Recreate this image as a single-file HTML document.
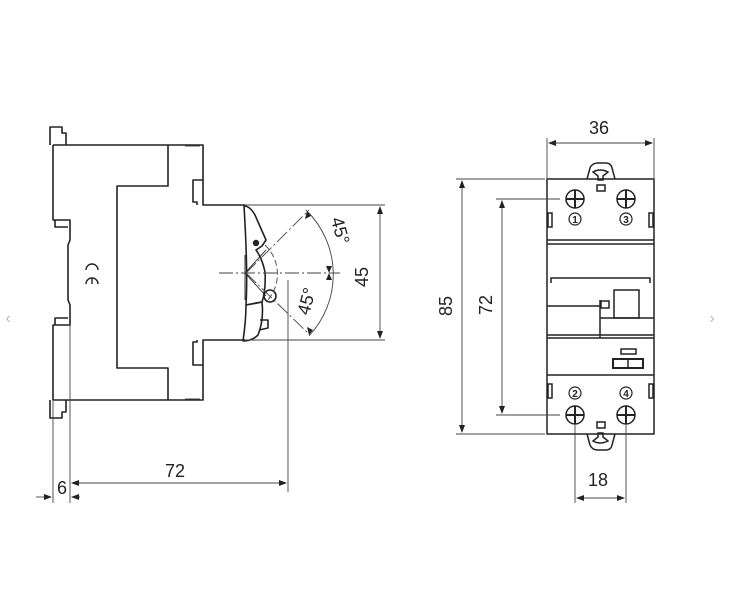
<!DOCTYPE html>
<html><head><style>
html,body{margin:0;padding:0;background:#fff;}
svg{display:block;}
text{font-family:"Liberation Sans",sans-serif;fill:#222;}
</style></head><body>
<svg width="734" height="604" viewBox="0 0 734 604" xmlns="http://www.w3.org/2000/svg">
<g fill="none" stroke="#222" stroke-width="1.6" stroke-linejoin="round">
<!-- LEFT VIEW body -->
<path d="M53,145 L203,145 L203,205 L245,205"/>
<path d="M245,340 L203,340 L203,400 L53,400"/>
<path d="M168,145 L168,186 L117,186 L117,368 L168,368 L168,400"/>
<path d="M53,145 L53,220 L70,220 L70,240 L68,245 L68,300 L70,305 L70,325 L53,325 L53,400"/>
<path d="M50,145 L50,127 L62,127 L62,133 L66,133 L66,145"/>
<path d="M50,400 L50,418 L62,418 L62,412 L66,412 L66,400"/>
<path d="M55,220 L55,227 L68,227"/><path d="M55,325 L55,318 L68,318"/>
<path d="M203,180 L193,180 L193,202 L197,202 L197,205"/>
<path d="M203,365 L193,365 L193,342 L197,342 L197,340"/>
<path d="M185,146 L200,146" stroke-width="0.8"/><path d="M185,399 L200,399" stroke-width="0.8"/>
<!-- CE -->
<path d="M98,270 a6,6 0 1 0 -12,0" stroke-width="1.4"/>
<path d="M98,284 a6,6 0 1 0 -12,0 M92,284 L92,278" stroke-width="1.4"/>
<!-- lever -->
<path d="M244,206 Q250,206 255,215 L266,240 L262,246 L256,250 Q262,258 265,272 Q266,290 262,302 L246,305 Q248,272 244,206 Z"/>
<circle cx="256" cy="243" r="2.4" fill="#222"/>
<path d="M246,305 L262,302 Q264,320 258,335 Q252,341 243,341 Q246,320 246,305 Z"/>
<path d="M260,320 L268,320 L268,328 L259,330"/>
<circle cx="270" cy="296" r="6"/>
<path d="M245,273 L266,250 M245,273 L266,296" stroke-width="0.9"/>
<line x1="245" y1="255" x2="245" y2="300" stroke-width="0.9"/>
</g>
<g fill="none" stroke="#444" stroke-width="0.9">
<path d="M219,273 L340,273" stroke-dasharray="14,3,2,3"/>
<path d="M246,273 L309,210 M246,273 L310,335" stroke-dasharray="14,3,2,3"/>
<path d="M265,245 A40,40 0 0 1 266,302" stroke-dasharray="6,3"/>
<path d="M306,210 A90,90 0 0 1 309,336"/>
<path d="M245,205 L385,205 M245,340 L385,340"/>
<line x1="380" y1="207" x2="380" y2="338"/>
<line x1="288" y1="280" x2="288" y2="492"/>
<line x1="53" y1="400" x2="53" y2="503"/>
<line x1="70" y1="325" x2="70" y2="503"/>
<line x1="72" y1="483" x2="286" y2="483"/>
<line x1="36" y1="497" x2="51" y2="497"/><line x1="72" y1="497" x2="80" y2="497"/>
</g>
<g fill="#222">
<path d="M380,206 l-3,8 h6z M380,339 l-3,-8 h6z"/>
<path d="M71,483 l8,-3 v6z M287,483 l-8,-3 v6z"/>
<path d="M52,497 l-8,-3 v6z M71,497 l8,-3 v6z"/>
<path d="M307,211 l-2,8 l6,-3z M309,335 l-2,-8 l6,3z M329,273 l-3,-7 l6,0z M329,273 l-3,7 l6,0z"/>
</g>
<text x="362" y="271" font-size="18" transform="rotate(-90 368 271)" text-anchor="middle">45</text>
<text x="330" y="238" font-size="18" transform="rotate(75 336 238)" text-anchor="middle">45°</text>
<text x="308" y="297" font-size="18" transform="rotate(-75 314 297)" text-anchor="middle">45°</text>
<text x="175" y="477" font-size="18" text-anchor="middle">72</text>
<text x="62" y="494" font-size="18" text-anchor="middle">6</text>

<!-- RIGHT VIEW -->
<g fill="none" stroke="#222" stroke-width="1.5">
<rect x="547" y="179" width="107" height="255"/>
<path d="M547,240 L654,240 M547,244 L654,244"/>
<path d="M551,283 L551,278 L650,278 L650,283"/>
<path d="M547,335 L654,335 M547,338 L654,338 M547,375 L654,375"/>
<path d="M547,306 L600,306 M600,300 L600,338 M600,318 L654,318"/>
<rect x="614" y="290" width="25" height="28"/>
<rect x="601" y="301" width="8" height="7"/>
<rect x="621" y="349" width="15" height="5"/>
<rect x="613" y="359" width="30" height="9" stroke-width="2"/>
<path d="M628,359 v9"/>
<path d="M587,179 L590,168 Q592,163 598,163 L606,163 Q611,163 612,168 L615,179"/>
<path d="M593,172 Q600,168 608,172 L603,176 L603,180 L598,180 L598,176 Z"/>
<rect x="597" y="185" width="8" height="6"/>
<path d="M587,434 L590,445 Q592,450 598,450 L606,450 Q611,450 612,445 L615,434"/>
<path d="M593,441 Q600,445 608,441 L603,437 L603,433 L598,433 L598,437 Z"/>
<rect x="597" y="422" width="8" height="6"/>
<rect x="548" y="213" width="4" height="14"/><rect x="649" y="213" width="4" height="14"/>
<rect x="548" y="384" width="4" height="14"/><rect x="649" y="384" width="4" height="14"/>
<circle cx="575" cy="199" r="9"/><circle cx="626" cy="199" r="9"/>
<circle cx="575" cy="415" r="9"/><circle cx="626" cy="415" r="9"/>
<path d="M566,199 h18 M575,190 v18 M617,199 h18 M626,190 v18 M566,415 h18 M575,406 v18 M617,415 h18 M626,406 v18" stroke-width="2"/>
<circle cx="575" cy="219" r="6" stroke-width="1.2"/><circle cx="626" cy="219" r="6" stroke-width="1.2"/>
<circle cx="575" cy="393" r="6" stroke-width="1.2"/><circle cx="626" cy="393" r="6" stroke-width="1.2"/>
</g>
<g font-size="10" font-weight="bold" text-anchor="middle">
<text x="575" y="223">1</text><text x="626" y="223">3</text>
<text x="575" y="397">2</text><text x="626" y="397">4</text>
</g>
<g fill="none" stroke="#444" stroke-width="0.9">
<path d="M547,138 L547,178 M654,138 L654,178 M549,143 L652,143"/>
<path d="M456,179 L545,179 M456,434 L545,434 M462,181 L462,432"/>
<path d="M496,199 L560,199 M496,415 L560,415 M502,201 L502,413"/>
<path d="M575,425 L575,503 M626,425 L626,503 M577,498 L624,498"/>
</g>
<g fill="#222">
<path d="M548,143 l8,-3 v6z M653,143 l-8,-3 v6z"/>
<path d="M462,180 l-3,8 h6z M462,433 l-3,-8 h6z"/>
<path d="M502,200 l-3,8 h6z M502,414 l-3,-8 h6z"/>
<path d="M576,498 l8,-3 v6z M625,498 l-8,-3 v6z"/>
</g>
<text x="599" y="134" font-size="18" text-anchor="middle">36</text>
<text x="598" y="486" font-size="18" text-anchor="middle">18</text>
<text x="452" y="306" font-size="18" text-anchor="middle" transform="rotate(-90 452 306)">85</text>
<text x="492" y="305" font-size="18" text-anchor="middle" transform="rotate(-90 492 305)">72</text>
<text x="8" y="323" font-size="16" text-anchor="middle" style="fill:#bbb">‹</text>
<text x="712" y="323" font-size="16" text-anchor="middle" style="fill:#bbb">›</text>
</svg>
</body></html>
